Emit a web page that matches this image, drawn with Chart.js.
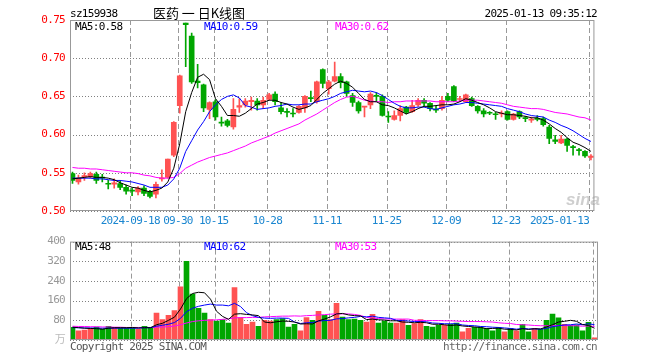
<!DOCTYPE html>
<html>
<head>
<meta charset="utf-8">
<script src="https://cdn.jsdelivr.net/npm/chart.js@4.4.1/dist/chart.umd.min.js"></script>
<style>
html, body { margin: 0; padding: 0; background: #fff; }
#wrap { position: relative; width: 660px; height: 360px; }
canvas { position: absolute; left: 0; }
#k { top: 0; }
#v { top: 230px; }
</style>
</head>
<body>
<div id="wrap">
  <canvas id="k" width="660" height="230"></canvas>
  <canvas id="v" width="660" height="130"></canvas>
</div>
<script>
// daily K line, 2024-09-02 .. 2025-01-13 (88 sessions)
const open = [.549,.538,.545,.545,.548,.544,.536,.535,.536,.531,
  .527,.525,.530,.525,.522,.542,.544,.573,.638,.746,
  .729,.670,.665,.633,.643,.616,.618,.610,.636,.639,
  .643,.644,.639,.646,.653,.635,.630,.628,.629,.635,
  .648,.643,.685,.660,.670,.676,.669,.651,.642,.636,
  .639,.651,.650,.624,.620,.625,.636,.630,.639,.645,
  .641,.633,.634,.650,.663,.646,.643,.647,.637,.631,
  .629,.627,.627,.630,.620,.630,.622,.619,.621,.621,
  .610,.593,.589,.594,.584,.580,.578,.570];
const high = [.551,.547,.550,.551,.551,.548,.540,.542,.540,.534,
  .530,.532,.533,.527,.538,.554,.568,.617,.678,.746,
  .733,.692,.666,.643,.646,.623,.620,.647,.647,.647,
  .649,.647,.649,.654,.656,.642,.634,.634,.638,.651,
  .657,.670,.686,.671,.695,.680,.670,.654,.644,.637,
  .655,.655,.652,.630,.631,.638,.637,.645,.647,.647,
  .642,.637,.650,.654,.664,.650,.653,.649,.638,.634,
  .630,.629,.631,.631,.628,.631,.624,.623,.625,.623,
  .612,.599,.599,.595,.586,.582,.579,.574];
const low = [.536,.535,.540,.543,.536,.538,.529,.530,.528,.522,
  .520,.521,.520,.517,.517,.539,.543,.571,.628,.689,
  .667,.661,.630,.621,.619,.611,.610,.607,.629,.636,
  .632,.632,.634,.645,.639,.627,.623,.623,.628,.629,
  .643,.641,.661,.653,.669,.661,.650,.637,.628,.623,
  .634,.643,.624,.616,.619,.618,.627,.629,.637,.637,
  .631,.629,.632,.643,.643,.643,.642,.637,.628,.623,
  .626,.620,.623,.619,.619,.621,.617,.616,.618,.611,
  .588,.588,.588,.578,.573,.573,.570,.567];
const close = [.540,.543,.546,.549,.540,.543,.535,.537,.531,.526,
  .526,.530,.523,.519,.535,.543,.568,.616,.677,.744,
  .669,.668,.635,.642,.623,.615,.612,.633,.638,.644,
  .645,.639,.645,.652,.643,.630,.629,.627,.637,.650,
  .647,.669,.667,.669,.676,.668,.654,.642,.631,.637,
  .653,.650,.625,.623,.625,.634,.629,.638,.645,.641,
  .634,.632,.645,.645,.644,.647,.652,.638,.631,.627,
  .628,.626,.628,.620,.627,.623,.621,.620,.620,.613,
  .595,.591,.594,.586,.583,.579,.572,.572];

const ma5 = [.542,.543,.544,.545,.544,.544,.543,.541,.537,.534,
  .531,.530,.527,.525,.527,.530,.538,.556,.588,.630,
  .655,.675,.679,.672,.647,.637,.625,.625,.624,.628,
  .634,.640,.642,.645,.645,.642,.640,.636,.633,.635,
  .638,.646,.654,.660,.666,.670,.667,.662,.654,.646,
  .643,.643,.639,.638,.635,.631,.627,.630,.634,.637,
  .637,.638,.639,.639,.640,.643,.647,.645,.642,.639,
  .635,.630,.628,.626,.626,.625,.624,.622,.622,.619,
  .614,.608,.603,.596,.590,.587,.583,.578];
const ma10 = [.543,.543,.543,.543,.542,.542,.541,.540,.540,.539,
  .538,.536,.534,.531,.531,.531,.534,.542,.556,.578,
  .592,.606,.617,.630,.639,.646,.650,.652,.648,.638,
  .636,.633,.634,.635,.637,.638,.640,.639,.639,.640,
  .640,.643,.645,.647,.650,.654,.656,.658,.657,.656,
  .657,.655,.651,.646,.641,.637,.635,.635,.636,.636,
  .634,.633,.635,.637,.639,.640,.642,.642,.641,.640,
  .639,.638,.637,.634,.632,.630,.627,.625,.624,.623,
  .619,.616,.612,.609,.605,.600,.595,.591];
const ma30 = [.557,.556,.556,.555,.555,.554,.553,.552,.551,.550,
  .550,.549,.547,.546,.544,.543,.543,.544,.549,.556,
  .560,.564,.567,.570,.572,.574,.576,.579,.582,.585,
  .589,.592,.595,.598,.602,.605,.608,.611,.614,.619,
  .623,.627,.632,.637,.642,.646,.649,.650,.648,.645,
  .644,.643,.643,.642,.643,.643,.644,.644,.644,.644,
  .644,.643,.643,.643,.643,.644,.645,.645,.645,.644,
  .643,.642,.641,.639,.637,.636,.635,.634,.634,.633,
  .631,.629,.628,.627,.625,.623,.622,.619];

// volume, 万
const volume = [51,37,40,47,53,43,56,51,49,49,
  51,43,56,51,109,83,100,120,216,320,
  187,129,109,83,77,83,69,213,91,64,
  73,56,80,77,83,87,53,64,37,91,
  80,117,100,83,149,93,83,85,80,73,
  104,69,77,69,69,83,60,67,83,56,
  53,60,60,64,69,33,47,51,53,47,
  37,51,33,47,37,64,33,47,43,80,
  105,90,64,60,62,37,72,9];
const vma5 = [52,50,48,47,46,44,48,50,50,50,
  51,49,50,50,62,68,80,93,126,168,
  189,194,192,166,117,96,84,105,107,104,
  102,99,73,70,74,77,76,73,65,66,
  65,78,85,94,106,108,102,99,98,83,
  85,82,81,78,78,73,72,70,72,70,
  64,64,62,59,61,57,55,53,51,46,
  47,48,44,43,41,46,43,46,45,53,
  62,73,76,80,76,63,59,48];
const vma10 = [50,50,49,49,48,48,48,48,48,48,
  48,48,50,50,56,60,64,71,88,115,
  129,137,142,146,142,142,139,149,136,111,
  99,92,89,88,89,89,88,73,67,70,
  71,77,79,80,86,87,90,92,96,94,
  97,92,90,88,80,79,77,75,75,74,
  69,68,66,66,66,61,59,58,55,54,
  52,51,49,47,44,47,45,45,44,47,
  54,58,61,62,65,62,66,62];
const vma30 = [56,55,55,54,54,53,53,52,52,51,
  51,51,51,51,52,53,54,57,62,69,
  75,78,80,81,82,84,86,90,91,91,
  92,92,94,95,96,97,97,98,97,99,
  100,102,103,105,106,106,106,104,100,92,
  89,87,86,85,85,85,85,80,80,79,
  79,79,78,78,77,76,75,75,75,74,
  73,70,68,67,63,62,61,59,58,58,
  58,59,59,58,58,56,57,55];

const tickIdx = [10, 18, 24, 33, 43, 53, 63, 73, 87];
const tickLabels = ['2024-09-18', '09-30', '10-15', '10-28', '11-11', '11-25', '12-09', '12-23', '2025-01-13'];

const RED = '#ff5252', GREEN = '#00a600';
const GRID = '#999999', DOTS = '#808080';
const MONO = { family: "'DejaVu Sans Mono', 'Noto Sans CJK SC', monospace", size: 11 };
const X_MIN = -2.5 / 6, X_MAX = 88 - 2.5 / 6;   // 6px per session
const GRID_SHIFT = -0.3;

const idx = close.map((_, i) => i);
const candleColor = c => close[c.dataIndex] >= open[c.dataIndex] ? RED : GREEN;
const pts = arr => idx.map(i => ({ x: i, y: arr[i] }));

function timeAxis(withLabels, h) {
  return {
    type: 'linear', min: X_MIN, max: X_MAX, offset: false,
    afterBuildTicks: s => { s.ticks = tickIdx.map(i => ({ value: i + GRID_SHIFT })); },
    afterFit: s => { s.height = h; },
    grid: { display: false, drawTicks: false },
    border: { display: false },
    ticks: {
      display: withLabels, autoSkip: false, maxRotation: 0, padding: 4,
      color: '#1a86d0', font: MONO,
      // last label sits left of its line
      callback: (v, k) => k === tickLabels.length - 1 ? tickLabels[k] + ' '.repeat(tickLabels[k].length) : tickLabels[k]
    }
  };
}

function valueAxis(min, max, step, color, fmt) {
  return {
    min, max,
    afterFit: s => { s.width = 70; },
    grid: { display: false, drawTicks: false },
    border: { display: false },
    ticks: { stepSize: step, color, font: MONO, padding: 5, callback: fmt }
  };
}

function maLine(arr, color) {
  return { type: 'line', data: pts(arr), borderColor: color, borderWidth: 1, pointRadius: 0, tension: 0, order: 0 };
}

function text(ctx, s, x, y, color, align, font, ls) {
  ctx.save();
  ctx.font = font || "11px 'DejaVu Sans Mono', monospace";
  ctx.letterSpacing = ls === undefined ? '-0.7px' : ls;
  ctx.fillStyle = color;
  ctx.textAlign = align || 'left';
  ctx.textBaseline = 'alphabetic';
  ctx.fillText(s, x, y);
  ctx.restore();
}

// grid lines at the scales' own ticks, frame round the plot
const frame = {
  id: 'frame',
  beforeDraw(chart) { chart.ctx.letterSpacing = '-0.7px'; },
  beforeDatasetsDraw(chart) {
    const a = chart.chartArea, ctx = chart.ctx;
    const xs = chart.scales.x, ys = chart.scales.y;
    ctx.save();
    ctx.lineWidth = 1;
    ctx.strokeStyle = DOTS;
    ctx.setLineDash([1, 2]);
    ys.ticks.forEach(t => {
      const y = Math.round(ys.getPixelForValue(t.value)) + 0.5;
      ctx.beginPath(); ctx.moveTo(a.left, y); ctx.lineTo(a.right, y); ctx.stroke();
    });
    ctx.strokeStyle = GRID;
    ctx.setLineDash([5, 3]);
    xs.ticks.forEach(t => {
      const x = Math.round(xs.getPixelForValue(t.value)) + 0.5;
      ctx.beginPath(); ctx.moveTo(x, a.top); ctx.lineTo(x, a.bottom); ctx.stroke();
    });
    ctx.restore();
  },
  afterDraw(chart) {
    const a = chart.chartArea, ctx = chart.ctx;
    ctx.save();
    ctx.strokeStyle = '#999';
    ctx.lineWidth = 1;
    ctx.strokeRect(a.left + 0.5, a.top + 0.5, a.right - a.left - 1, a.bottom - a.top - 1);
    ctx.restore();
  }
};

const kText = {
  id: 'kText',
  beforeDatasetsDraw(chart) {
    text(chart.ctx, 'sina', 566, 205, 'rgba(190,190,190,0.75)', 'left', "italic bold 17px 'Liberation Sans', sans-serif", '0px');
  },
  afterDraw(chart) {
    const ctx = chart.ctx;
    text(ctx, 'sz159938', 70, 17, '#000');
    text(ctx, '医药 一 日K线图', 199, 18, '#000', 'center', "13px 'Noto Sans CJK SC', sans-serif", '0px');
    text(ctx, '2025-01-13 09:35:12', 597, 17, '#000', 'right');
    text(ctx, 'MA5:0.58', 75, 30, '#000');
    text(ctx, 'MA10:0.59', 204, 30, '#0000ff');
    text(ctx, 'MA30:0.62', 335, 30, '#ff00ff');
  }
};

const vText = {
  id: 'vText',
  afterDraw(chart) {
    const ctx = chart.ctx;
    text(ctx, 'MA5:48', 75, 20, '#000');
    text(ctx, 'MA10:62', 204, 20, '#0000ff');
    text(ctx, 'MA30:53', 335, 20, '#ff00ff');
    text(ctx, 'Copyright 2025 SINA.COM', 70, 120, '#555');
    text(ctx, 'http://finance.sina.com.cn', 597, 120, '#666', 'right');
  }
};

const common = {
  responsive: false, animation: false, devicePixelRatio: 1, events: [],
  plugins: { legend: { display: false }, tooltip: { enabled: false } }
};

new Chart(document.getElementById('k'), {
  type: 'bar',
  data: {
    datasets: [
      maLine(ma5, '#000000'),
      maLine(ma10, '#0000ff'),
      maLine(ma30, '#ff00ff'),
      { data: idx.map(i => ({ x: i, y: [open[i], close[i]] })), backgroundColor: candleColor,
        barThickness: 5, minBarLength: 1, grouped: false, order: 1 },
      { data: idx.map(i => ({ x: i, y: [low[i], high[i]] })), backgroundColor: candleColor,
        barThickness: 1, minBarLength: 1, grouped: false, order: 2 }
    ]
  },
  options: {
    ...common,
    layout: { padding: { left: 0, right: 62, top: 20, bottom: 0 } },
    scales: {
      x: timeAxis(true, 19),
      y: valueAxis(0.5, 0.75, 0.05, '#ff0000', v => v.toFixed(2))
    }
  },
  plugins: [frame, kText]
});

new Chart(document.getElementById('v'), {
  type: 'bar',
  data: {
    datasets: [
      maLine(vma5, '#000000'),
      maLine(vma10, '#0000ff'),
      maLine(vma30, '#ff00ff'),
      { data: pts(volume), backgroundColor: candleColor, barThickness: 5, grouped: false, order: 1 }
    ]
  },
  options: {
    ...common,
    layout: { padding: { left: 0, right: 62, top: 10, bottom: 0 } },
    scales: {
      x: timeAxis(false, 20),
      y: valueAxis(0, 400, 80, c => (c.tick && c.tick.value === 0) ? '#bbb' : '#999',
        v => v === 0 ? '万' : v)
    }
  },
  plugins: [frame, vText]
});
</script>
</body>
</html>
